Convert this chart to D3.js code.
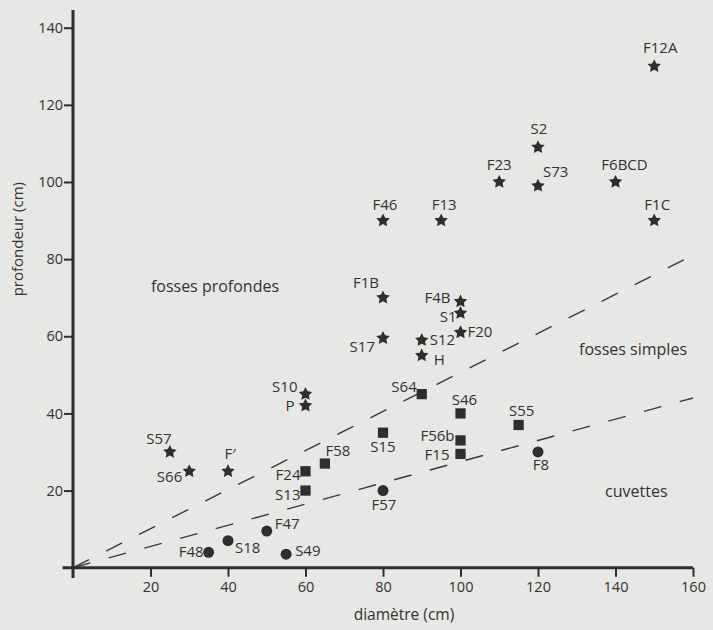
<!DOCTYPE html>
<html>
<head>
<meta charset="utf-8">
<script src="https://cdn.jsdelivr.net/npm/d3@7"></script>
<style>
  html, body { margin: 0; padding: 0; background: #e7e7e5; }
  svg { display: block; }
  text { font-family: "Open Sans", "Noto Sans", sans-serif; fill: #333; }
</style>
</head>
<body>
<div id="chart"></div>
<script>
// fosses profondes (stars)
const profNames = ['F12A', 'S2', 'F23', 'S73', 'F6BCD', 'F46', 'F13', 'F1C', 'F1B', 'F4B', 'S1', 'F20', 'S17', 'S12', 'H', 'S10', 'P', 'S57', 'S66', 'F\u2032'];
const profDiam  = [150, 120, 110, 120, 140, 80, 95, 150, 80, 100, 100, 100, 80, 90, 90, 60, 60, 25, 30, 40];
const profDepth = [130, 109, 100, 99, 100, 90, 90, 90, 70, 69, 66, 61, 59.5, 59, 55, 45, 42, 30, 25, 25];

// fosses simples (squares)
const simpNames = ['S64', 'S46', 'S55', 'S15', 'F56b', 'F15', 'F58', 'F24', 'S13'];
const simpDiam  = [90, 100, 115, 80, 100, 100, 65, 60, 60];
const simpDepth = [45, 40, 37, 35, 33, 29.5, 27, 25, 20];

// cuvettes (circles)
const cuvNames = ['F8', 'F57', 'F47', 'S18', 'F48', 'S49'];
const cuvDiam  = [120, 80, 50, 40, 35, 55];
const cuvDepth = [30, 20, 9.5, 7, 4, 3.5];

// dashed separation lines
const upperLine = [[0, 0], [160, 81]];
const lowerLine = [[0, 0], [160, 44]];

const xTicks = [20, 40, 60, 80, 100, 120, 140, 160];
const yTicks = [20, 40, 60, 80, 100, 120, 140];

// label placement: dx, dy, anchor
const labelPos = {
  'F12A': [6, -13, 'middle'], 'S2': [1, -13, 'middle'], 'F23': [0, -12, 'middle'],
  'S73': [5, -9, 'start'], 'F6BCD': [9, -12, 'middle'], 'F46': [2, -11, 'middle'],
  'F13': [3, -11, 'middle'], 'F1C': [3, -11, 'middle'], 'F1B': [-4, -10, 'end'],
  'F4B': [-10, 1, 'end'], 'S1': [-4, 9, 'end'], 'F20': [7, 5, 'start'],
  'S17': [-8, 14, 'end'], 'S12': [8, 5, 'start'], 'H': [12, 9, 'start'],
  'S10': [-8, -2, 'end'], 'P': [-11, 5, 'end'], 'S57': [-11, -8, 'middle'],
  'S66': [-7, 11, 'end'], 'F\u2032': [2, -12, 'middle'],
  'S64': [-5, -2, 'end'], 'S46': [4, -8, 'middle'], 'S55': [3, -9, 'middle'],
  'S15': [0, 19, 'middle'], 'F56b': [-6, 1, 'end'], 'F15': [-11, 6, 'end'],
  'F58': [13, -8, 'middle'], 'F24': [-5, 9, 'end'], 'S13': [-5, 9, 'end'],
  'F8': [3, 18, 'middle'], 'F57': [1, 19, 'middle'], 'F47': [8, -2, 'start'],
  'S18': [7, 12, 'start'], 'F48': [-5, 5, 'end'], 'S49': [9, 2, 'start']
};

const width = 713, height = 630;
const ink = '#2e2e2e';

const svg = d3.select('#chart').append('svg')
  .attr('width', width)
  .attr('height', height);

const x = d3.scaleLinear().domain([0, 160]).range([73, 693]);
const y = d3.scaleLinear().domain([0, 140]).range([567.7, 27.7]);

// a plumper five-pointed star than d3.symbolStar
const fatStar = {
  draw(context, size) {
    const r = Math.sqrt(size) * 0.9, ri = r * 0.5;
    for (let i = 0; i < 10; i++) {
      const a = -Math.PI / 2 + i * Math.PI / 5;
      const rr = i % 2 ? ri : r;
      if (i === 0) context.moveTo(rr * Math.cos(a), rr * Math.sin(a));
      else context.lineTo(rr * Math.cos(a), rr * Math.sin(a));
    }
    context.closePath();
  }
};

// dashed lines
const line = d3.line().x(d => x(d[0])).y(d => y(d[1]));
[upperLine, lowerLine].forEach(l => {
  svg.append('path')
    .attr('d', line(l))
    .attr('fill', 'none')
    .attr('stroke', '#3a3a3a')
    .attr('stroke-width', 1.4)
    .attr('stroke-dasharray', '18 19');
});

// axes
const xAxis = svg.append('g')
  .attr('transform', `translate(0,${y(0)})`)
  .call(d3.axisBottom(x).tickValues(xTicks).tickSize(9).tickPadding(5).tickFormat(d3.format('d')));
const yAxis = svg.append('g')
  .attr('transform', `translate(${x(0)},0)`)
  .call(d3.axisLeft(y).tickValues(yTicks).tickSize(9).tickPadding(1).tickFormat(d3.format('d')));

[xAxis, yAxis].forEach(g => {
  g.select('.domain').remove();
  g.selectAll('.tick line').attr('stroke', ink).attr('stroke-width', 2);
  g.selectAll('.tick text').attr('fill', '#3a3a3a').style('font-size', '14.5px').style('font-family', '"Open Sans", sans-serif');
});

// main axis lines (they cross slightly past the origin)
svg.append('line')
  .attr('x1', x(-2.7)).attr('x2', x(160))
  .attr('y1', y(0)).attr('y2', y(0))
  .attr('stroke', ink).attr('stroke-width', 3);
svg.append('line')
  .attr('x1', x(0)).attr('x2', x(0))
  .attr('y1', y(-2.7)).attr('y2', y(144.6))
  .attr('stroke', ink).attr('stroke-width', 3);

// axis titles
svg.append('text')
  .attr('x', 404).attr('y', 620)
  .attr('text-anchor', 'middle')
  .style('font-size', '15.5px')
  .text('diamètre (cm)');
svg.append('text')
  .attr('transform', 'translate(23,182) rotate(-90)')
  .attr('text-anchor', 'end')
  .style('font-size', '15px')
  .text('profondeur (cm)');

// group labels
svg.append('text').attr('x', x(20.1)).attr('y', y(71.5)).style('font-size', '16px').text('fosses profondes');
svg.append('text').attr('x', x(130.6)).attr('y', y(55.1)).style('font-size', '16px').text('fosses simples');
svg.append('text').attr('x', x(137.3)).attr('y', y(18.3)).style('font-size', '16px').text('cuvettes');

function drawSeries(names, diam, depth, symbol, size) {
  const data = names.map((n, i) => ({ name: n, x: diam[i], y: depth[i] }));
  const g = svg.append('g');
  g.selectAll('path')
    .data(data)
    .enter()
    .append('path')
    .attr('transform', d => `translate(${x(d.x)},${y(d.y)})`)
    .attr('d', d3.symbol().type(symbol).size(size))
    .attr('fill', ink);
  g.selectAll('text')
    .data(data)
    .enter()
    .append('text')
    .attr('x', d => x(d.x) + labelPos[d.name][0])
    .attr('y', d => y(d.y) + labelPos[d.name][1])
    .attr('text-anchor', d => labelPos[d.name][2])
    .style('font-size', '15px')
    .text(d => d.name);
}

drawSeries(profNames, profDiam, profDepth, fatStar, 62);
drawSeries(simpNames, simpDiam, simpDepth, d3.symbolSquare, 105);
drawSeries(cuvNames, cuvDiam, cuvDepth, d3.symbolCircle, 95);
</script>
</body>
</html>
